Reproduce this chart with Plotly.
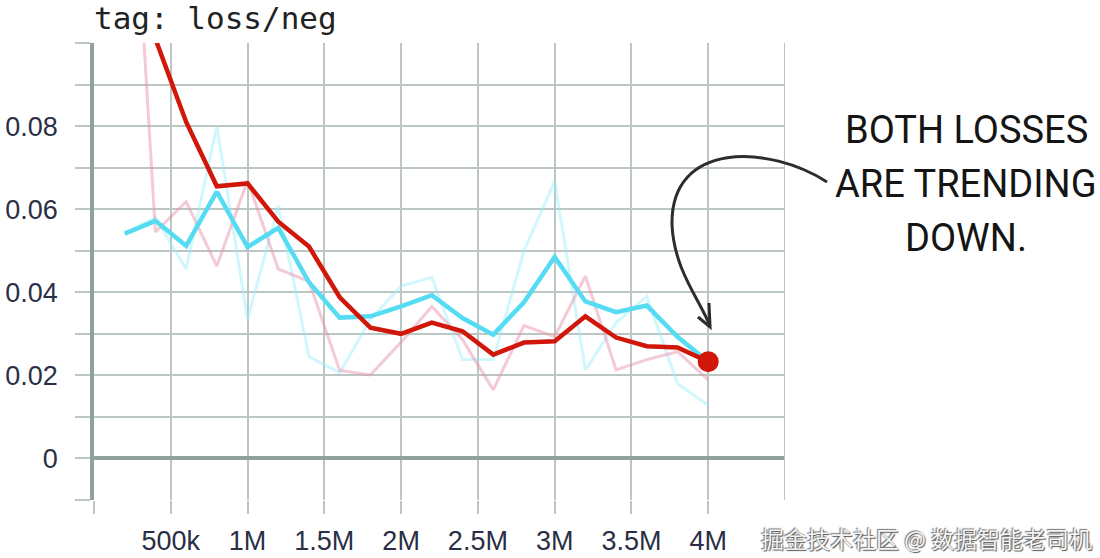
import plotly.graph_objects as go

# ---------------- data ----------------
steps = [200e3, 400e3, 600e3, 800e3, 1.0e6, 1.2e6, 1.4e6, 1.6e6, 1.8e6, 2.0e6,
         2.2e6, 2.4e6, 2.6e6, 2.8e6, 3.0e6, 3.2e6, 3.4e6, 3.6e6, 3.8e6, 4.0e6]

neg_raw_red = [0.177, 0.0545, 0.0618, 0.0463, 0.0669, 0.0456, 0.0426, 0.0212, 0.0201, 0.0280,
               0.0366, 0.0286, 0.0165, 0.0320, 0.0293, 0.0439, 0.0213, 0.0238, 0.0257, 0.0189]
neg_smooth_red = [0.177, 0.1010, 0.0810, 0.0655, 0.0662, 0.0570, 0.0510, 0.0388, 0.0315, 0.0300,
                  0.0327, 0.0306, 0.0250, 0.0279, 0.0282, 0.0342, 0.0291, 0.0270, 0.0267, 0.0233]
raw_cyan = [0.0541, 0.0580, 0.0456, 0.0800, 0.0335, 0.0608, 0.0245, 0.0206, 0.0335, 0.0415,
            0.0436, 0.0238, 0.0238, 0.0500, 0.0667, 0.0213, 0.0327, 0.0390, 0.0180, 0.0128]
smooth_cyan = [0.0541, 0.0572, 0.0512, 0.0642, 0.0509, 0.0555, 0.0424, 0.0339, 0.0342, 0.0366,
               0.0393, 0.0338, 0.0298, 0.0376, 0.0485, 0.0378, 0.0352, 0.0368, 0.0293, 0.0233]

x_tickvals = [0, 500e3, 1.0e6, 1.5e6, 2.0e6, 2.5e6, 3.0e6, 3.5e6, 4.0e6]
x_ticktext = ["", "500k", "1M", "1.5M", "2M", "2.5M", "3M", "3.5M", "4M"]
y_tickvals = [-0.01, 0, 0.01, 0.02, 0.03, 0.04, 0.05, 0.06, 0.07, 0.08, 0.09, 0.10]
y_ticktext = ["", "0", "", "0.02", "", "0.04", "", "0.06", "", "0.08", "", ""]

title_text = "tag: loss/neg"
note_lines = ["BOTH LOSSES", "ARE TRENDING", "DOWN."]
watermark = "掘金技术社区 @ 数据智能老司机"

# ---------------- layout geometry ----------------
W, H = 1100, 558
ML, MR, MT, MB = 94, 315, 43, 58
PW, PH = W - ML - MR, H - MT - MB


def px(xp, yp):
    """pixel -> paper coordinates (for decoration only)"""
    return (xp - ML) / PW, (H - MB - yp) / PH


def path_from(cmds):
    out = []
    for c in cmds:
        op, pts = c[0], c[1:]
        coords = []
        for (a, b) in pts:
            u, v = px(a, b)
            coords.append(f"{u:.4f},{v:.4f}")
        out.append(op + " " + " ".join(coords))
    return " ".join(out)


fig = go.Figure()

fig.add_trace(go.Scatter(x=steps, y=raw_cyan, mode="lines",
                         line=dict(color="rgba(150,238,248,0.45)", width=3),
                         showlegend=False, hoverinfo="skip"))
fig.add_trace(go.Scatter(x=steps, y=neg_raw_red, mode="lines",
                         line=dict(color="rgba(232,150,172,0.5)", width=3),
                         showlegend=False, hoverinfo="skip"))
fig.add_trace(go.Scatter(x=steps, y=smooth_cyan, mode="lines",
                         line=dict(color="#55dcf3", width=4.5),
                         showlegend=False))
fig.add_trace(go.Scatter(x=steps, y=neg_smooth_red, mode="lines",
                         line=dict(color="#d0170a", width=4.5),
                         showlegend=False))
fig.add_trace(go.Scatter(x=steps[-1:], y=neg_smooth_red[-1:], mode="markers",
                         marker=dict(color="#d0170a", size=21),
                         showlegend=False))

grid_col = "#bcc6c4"
axis_col = "#8fa39c"
tick_font = dict(family="Liberation Sans, Arial, sans-serif", size=27, color="#2a2f45")

fig.update_layout(
    width=W, height=H,
    margin=dict(l=ML, r=MR, t=MT, b=MB, autoexpand=False),
    paper_bgcolor="white", plot_bgcolor="white",
    showlegend=False,
    xaxis=dict(range=[0, 4.5e6], tickmode="array", tickvals=x_tickvals, ticktext=x_ticktext,
               showgrid=True, gridcolor=grid_col, gridwidth=2,
               ticks="outside", ticklen=13, tickwidth=2, tickcolor=grid_col,
               zeroline=False, showline=False, tickfont=tick_font,
               ticklabelstandoff=4, automargin=False),
    yaxis=dict(range=[-0.01, 0.1], tickmode="array", tickvals=y_tickvals, ticktext=y_ticktext,
               showgrid=True, gridcolor=grid_col, gridwidth=2,
               ticks="outside", ticklen=15, tickwidth=2, tickcolor=grid_col,
               zeroline=True, zerolinecolor=axis_col, zerolinewidth=3.5,
               showline=True, linecolor=axis_col, linewidth=3.5,
               tickfont=tick_font, ticklabelstandoff=12, automargin=False),
)

# right border line
fig.add_shape(type="line", xref="x", yref="paper", x0=4.5e6, x1=4.5e6, y0=0, y1=1,
              line=dict(color=grid_col, width=2))

# title
tx, ty = px(ML - 2, 18)
fig.add_annotation(text=title_text, xref="paper", yref="paper", x=tx, y=ty,
                   xanchor="left", yanchor="middle", showarrow=False,
                   font=dict(family="DejaVu Sans Mono, monospace", size=31, color="#222222"))

# hand-written note, one line per annotation
for line_text, ypix in zip(note_lines, [130, 184, 238]):
    nx, ny = px(966, ypix)
    fig.add_annotation(text=line_text, xref="paper", yref="paper", x=nx, y=ny,
                       xanchor="center", yanchor="middle", showarrow=False,
                       font=dict(family="Roboto, sans-serif", size=38, color="#151515"))

# curved arrow
curve = path_from([
    ("M", (827, 182)),
    ("C", (770, 145), (670, 140), (672, 225)),
    ("C", (674, 270), (700, 300), (710, 326)),
])
fig.add_shape(type="path", xref="paper", yref="paper", path=curve,
              line=dict(color="#2d2d2d", width=3))
head = path_from([("M", (698, 317)), ("L", (710, 327)), ("L", (709, 303))])
fig.add_shape(type="path", xref="paper", yref="paper", path=head,
              line=dict(color="#2d2d2d", width=3))

# watermark
wx, wy = px(1094, 538)
fig.add_annotation(text=watermark, xref="paper", yref="paper", x=wx, y=wy,
                   xanchor="right", yanchor="middle", showarrow=False,
                   font=dict(family="Noto Sans CJK SC, sans-serif", size=23, color="#f4f4f4",
                             shadow="1px 1px 1px #555, -1px -1px 1px #777"))

fig.write_html("out.html", config={"displayModeBar": False},
               post_script="document.body.style.margin='0px';document.body.style.overflow='hidden';")
